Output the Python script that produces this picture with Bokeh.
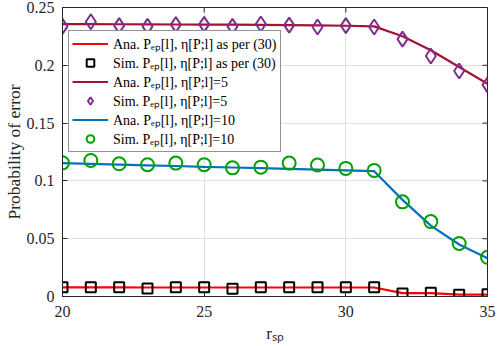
from bokeh.plotting import figure
from bokeh.models import Range1d, FixedTicker, Legend, LegendItem
from bokeh.embed import file_html
from bokeh.resources import INLINE

r_sp = [20, 21, 22, 23, 24, 25, 26, 27, 28, 29, 30, 31, 32, 33, 34, 35]

ana_30 = [0.0079, 0.0079, 0.0079, 0.0078, 0.0078, 0.0078, 0.0078, 0.0078,
          0.0078, 0.0078, 0.0078, 0.0078, 0.0029, 0.0030, 0.0016, 0.0016]
sim_30 = [0.0079, 0.0081, 0.0079, 0.0070, 0.0079, 0.0081, 0.0067, 0.0081,
          0.0079, 0.0081, 0.0079, 0.0081, 0.0027, 0.0033, 0.0015, 0.0019]

ana_5 = [0.2357, 0.2356, 0.2355, 0.2354, 0.2353, 0.2352, 0.2351, 0.2350,
         0.2348, 0.2346, 0.2342, 0.2337, 0.2251, 0.2130, 0.1985, 0.1840]
sim_5 = [0.2337, 0.2377, 0.2343, 0.2337, 0.2352, 0.2354, 0.2337, 0.2357,
         0.2348, 0.2331, 0.2343, 0.2331, 0.2226, 0.2080, 0.1951, 0.1831]

ana_10 = [0.1153, 0.1147, 0.1141, 0.1135, 0.1129, 0.1122, 0.1116, 0.1110,
          0.1104, 0.1098, 0.1091, 0.1084, 0.0836, 0.0613, 0.0450, 0.0330]
sim_10 = [0.1156, 0.1177, 0.1148, 0.1140, 0.1154, 0.1140, 0.1113, 0.1119,
          0.1154, 0.1137, 0.1108, 0.1091, 0.0819, 0.0648, 0.0459, 0.0339]

x_ticks = [20, 25, 30, 35]
y_ticks = [0, 0.05, 0.1, 0.15, 0.2, 0.25]
y_tick_labels = ["0", "0.05", "0.1", "0.15", "0.2", "0.25"]

labels = [
    "Ana. P\u2091\u209a[l], \u03b7[P;l] as per (30)",
    "Sim. P\u2091\u209a[l], \u03b7[P;l] as per (30)",
    "Ana. P\u2091\u209a[l], \u03b7[P;l]=5",
    "Sim. P\u2091\u209a[l], \u03b7[P;l]=5",
    "Ana. P\u2091\u209a[l], \u03b7[P;l]=10",
    "Sim. P\u2091\u209a[l], \u03b7[P;l]=10",
]

FONT = "Liberation Serif"
AX = "#262626"

X0, X1 = 20, 35
Y0, Y1 = 0, 0.25

p = figure(width=498, height=346, output_backend="svg", toolbar_location=None,
           x_range=Range1d(X0, X1), y_range=Range1d(Y0, Y1),
           min_border_left=60, min_border_right=11, min_border_top=7,
           min_border_bottom=50)

p.outline_line_color = AX
p.outline_line_width = 1

p.xaxis.ticker = FixedTicker(ticks=x_ticks)
p.yaxis.ticker = FixedTicker(ticks=y_ticks)
p.yaxis.major_label_overrides = dict(zip(y_ticks, y_tick_labels))
for ax in (p.xaxis, p.yaxis):
    ax.major_label_text_font = FONT
    ax.major_label_text_font_size = "16px"
    ax.major_label_text_color = AX
    ax.axis_label_text_font = FONT
    ax.axis_label_text_font_style = "normal"
    ax.axis_label_text_color = AX
    ax.axis_line_color = AX
    ax.major_tick_line_color = AX
    ax.major_tick_in = 5
    ax.major_tick_out = 0
    ax.minor_tick_line_color = None
p.xaxis.major_label_standoff = 9
p.yaxis.major_label_standoff = 8
p.xaxis.axis_label = "r\u209b\u209a"
p.xaxis.axis_label_text_font_size = "17px"
p.xaxis.axis_label_standoff = 4
p.yaxis.axis_label = "Probability of error"
p.yaxis.axis_label_text_font_size = "17.5px"
p.yaxis.axis_label_standoff = 0

p.xgrid.ticker = FixedTicker(ticks=x_ticks)
p.ygrid.ticker = FixedTicker(ticks=y_ticks)
p.grid.grid_line_color = "#e0e0e0"
p.grid.grid_line_width = 1

# MATLAB box ticks on the right and top edges
dx = (X1 - X0) * 5 / 427
dy = (Y1 - Y0) * 5 / 289
p.segment(x0=[X1 - dx] * len(y_ticks), y0=y_ticks, x1=[X1] * len(y_ticks), y1=y_ticks,
          line_color=AX, line_width=1)
p.segment(x0=x_ticks, y0=[Y1 - dy] * len(x_ticks), x1=x_ticks, y1=[Y1] * len(x_ticks),
          line_color=AX, line_width=1)

RED = "#ff0000"
DRED = "#a2142f"
BLUE = "#0072bd"
PURPLE = "#7e2f8e"
GREEN = "#00a000"

l1 = p.line(r_sp, ana_30, line_color=RED, line_width=2.2)
m1 = p.scatter(r_sp, sim_30, marker="square", size=10, line_color="black",
               fill_color=None, line_width=2)
l2 = p.line(r_sp, ana_5, line_color=DRED, line_width=2.2)
m2 = p.scatter(r_sp, sim_5, marker="diamond", size=15,
               line_color=PURPLE, fill_color=None, line_width=2)
l3 = p.line(r_sp, ana_10, line_color=BLUE, line_width=2.2)
m3 = p.scatter(r_sp, sim_10, marker="circle", size=13, line_color=GREEN,
               fill_color=None, line_width=2)

renderers = [l1, m1, l2, m2, l3, m3]
legend = Legend(items=[LegendItem(label=lab, renderers=[rr]) for lab, rr in zip(labels, renderers)],
                location=(6, 144), margin=0, padding=3, spacing=0,
                glyph_width=36, glyph_height=19, label_height=19, label_standoff=5,
                label_text_font=FONT, label_text_font_size="14px", label_text_color="black",
                border_line_color=AX, border_line_width=1, background_fill_alpha=1)
p.add_layout(legend, "center")

open("out.html", "w").write(file_html(p, INLINE))
